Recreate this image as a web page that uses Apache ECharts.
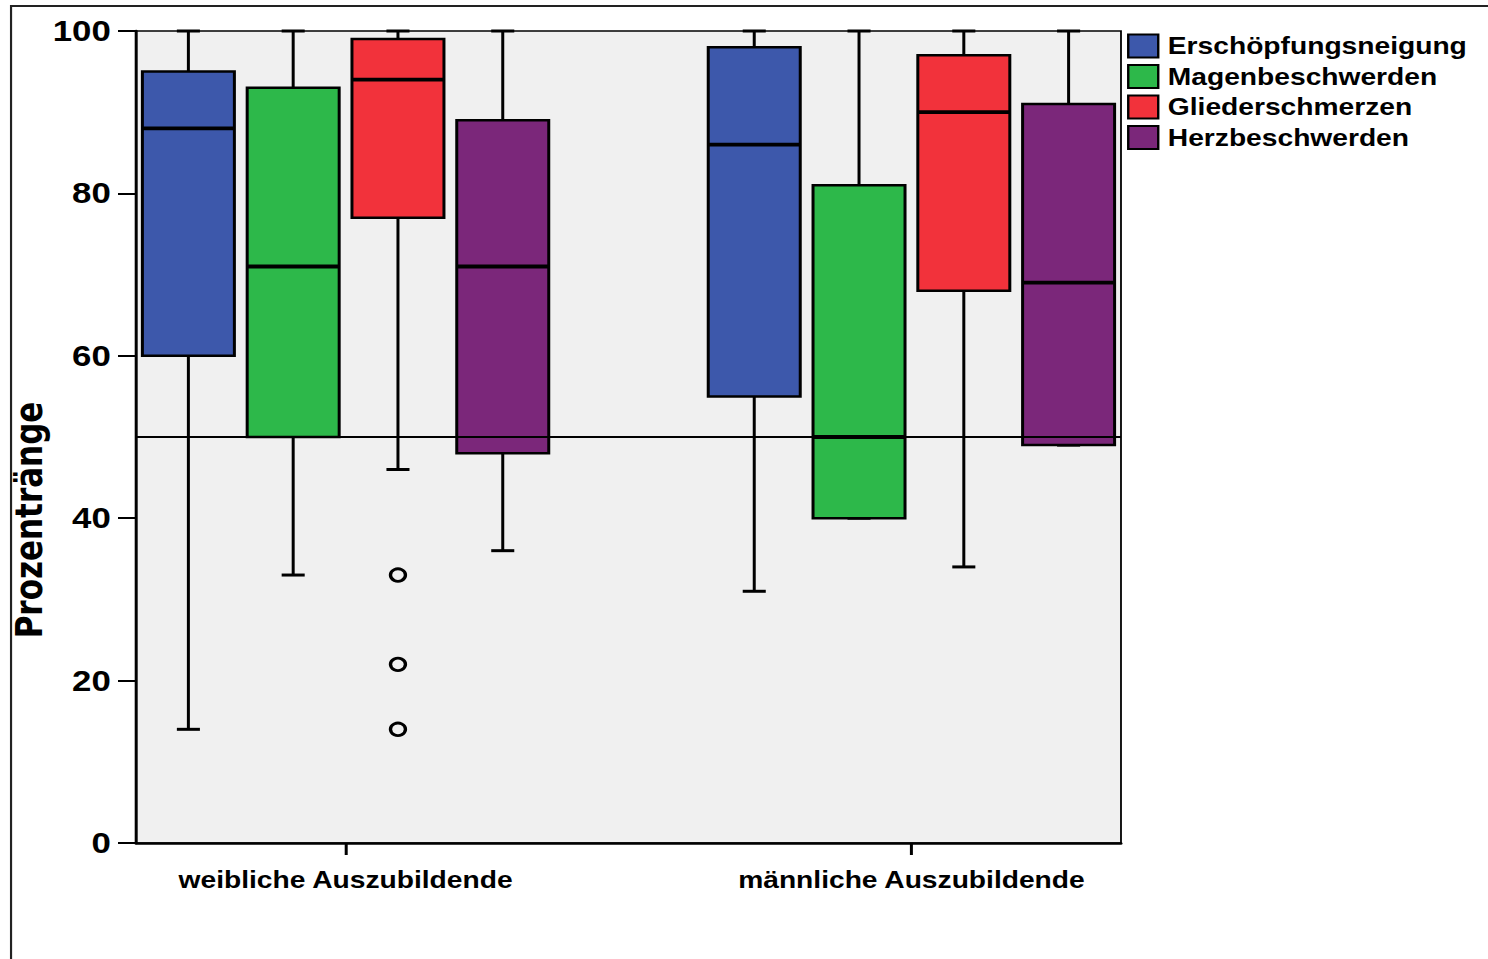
<!DOCTYPE html>
<html>
<head>
<meta charset="utf-8">
<script src="https://cdn.jsdelivr.net/npm/echarts@6/dist/echarts.min.js"></script>
<style>
html,body{margin:0;padding:0;background:#fff;overflow:hidden;width:1488px;height:959px}
#chart{width:1240px;height:959px;transform:scaleX(1.2);transform-origin:0 0}
</style>
</head>
<body>
<div id="chart"></div>
<script>
// ---- data ----
const groups = ['weibliche Auszubildende', 'männliche Auszubildende'];
const seriesNames = ['Erschöpfungsneigung', 'Magenbeschwerden', 'Gliederschmerzen', 'Herzbeschwerden'];
// each entry: [min, Q1, median, Q3, max] for [weiblich, männlich]
const erschoepfung = [[14, 60, 88, 95, 100], [31, 55, 86, 98, 100]];
const magen        = [[33, 50, 71, 93, 100], [40, 40, 50, 81, 100]];
const glieder      = [[46, 77, 94, 99, 100], [34, 68, 90, 97, 100]];
const herz         = [[36, 48, 71, 89, 100], [49, 49, 69, 91, 100]];
// outliers: [groupIndex, seriesIndex, value]
const outliers = [[0, 2, 33], [0, 2, 22], [0, 2, 14]];
const referenceValue = 50;
const yTicks = [0, 20, 40, 60, 80, 100];

// ---- layout ----
const GROUP_OFFSET = 5.4;   // distance between group starts (in slot units)
const X_MAX = 9.4;
const BOX_W = 0.878;
const CAP_W = 0.22;
const colors = ['#3d58ab', '#2db84a', '#f2323b', '#7b277a'];
const FONT = 'Liberation Sans, Arial, sans-serif';

const slot = (g, k) => g * GROUP_OFFSET + k + 0.5;
const groupCenters = groups.map((_, g) => (slot(g, 0) + slot(g, 3)) / 2);
const allStats = [erschoepfung, magen, glieder, herz];

function renderBox(params, api) {
  const x = api.value(0);
  const mn = api.value(1), q1 = api.value(2), md = api.value(3), q3 = api.value(4), mx = api.value(5);
  const half = api.size([BOX_W, 0])[0] / 2;
  const capHalf = api.size([CAP_W, 0])[0] / 2;
  const pMin = api.coord([x, mn]), pQ1 = api.coord([x, q1]), pMd = api.coord([x, md]);
  const pQ3 = api.coord([x, q3]), pMx = api.coord([x, mx]);
  const cx = pMd[0];
  const color = api.visual('color');
  const wl = { stroke: '#000', lineWidth: 2.5 };
  const cap = { stroke: '#000', lineWidth: 3 };
  return {
    type: 'group',
    children: [
      { type: 'line', shape: { x1: cx, y1: pMx[1], x2: cx, y2: pQ3[1] }, style: wl },
      { type: 'line', shape: { x1: cx - capHalf, y1: pMx[1], x2: cx + capHalf, y2: pMx[1] }, style: cap },
      { type: 'line', shape: { x1: cx, y1: pQ1[1], x2: cx, y2: pMin[1] }, style: wl },
      { type: 'line', shape: { x1: cx - capHalf, y1: pMin[1], x2: cx + capHalf, y2: pMin[1] }, style: cap },
      { type: 'rect', shape: { x: cx - half, y: pQ3[1], width: 2 * half, height: pQ1[1] - pQ3[1] },
        style: { fill: color, stroke: '#000', lineWidth: 2.5 } },
      { type: 'line', shape: { x1: cx - half, y1: pMd[1], x2: cx + half, y2: pMd[1] },
        style: { stroke: '#000', lineWidth: 3.8 } }
    ]
  };
}

const series = seriesNames.map((name, k) => ({
  name: name,
  type: 'custom',
  renderItem: renderBox,
  itemStyle: { color: colors[k] },
  encode: { x: 0, y: [1, 2, 3, 4, 5] },
  data: allStats[k].map((s, g) => [slot(g, k)].concat(s)),
  z: 2
}));

series[0].markLine = {
  silent: true,
  symbol: 'none',
  label: { show: false },
  lineStyle: { color: '#000', width: 2, type: 'solid' },
  data: [{ yAxis: referenceValue }],
  z: 5
};

series.push({
  type: 'scatter',
  symbol: 'circle',
  symbolSize: 12.5,
  itemStyle: { color: 'rgba(0,0,0,0)', borderColor: '#000', borderWidth: 2.8, opacity: 1 },
  data: outliers.map(o => [slot(o[0], o[1]), o[2]]),
  z: 6
});

const chart = echarts.init(document.getElementById('chart'), null, { renderer: 'svg' });
chart.setOption({
  animation: false,
  color: colors,
  graphic: [{
    type: 'rect',
    shape: { x: 9.2, y: 6, width: 1500, height: 1100 },
    style: { fill: 'none', stroke: '#222', lineWidth: 1.8 },
    silent: true
  }],
  grid: {
    left: 113.33, top: 31, width: 820.83, height: 812,
    outerBoundsMode: 'none',
    containLabel: false,
    show: true, backgroundColor: '#f0f0f0', borderColor: '#000', borderWidth: 1.5
  },
  legend: {
    data: seriesNames,
    orient: 'vertical',
    left: 939.2,
    top: 33.5,
    icon: 'rect',
    itemWidth: 25,
    itemHeight: 23,
    itemGap: 5.5,
    padding: 0,
    selectedMode: false,
    itemStyle: { borderColor: '#000', borderWidth: 2 },
    textStyle: { fontFamily: FONT, fontWeight: 'bold', fontSize: 23.5, color: '#000', lineHeight: 23, padding: [0, 0, 0, 3] }
  },
  xAxis: {
    type: 'value',
    min: 0,
    max: X_MAX,
    splitLine: { show: false },
    axisLine: { show: true, onZero: false, lineStyle: { color: '#000', width: 2.5 } },
    axisTick: { show: true, customValues: groupCenters, length: 12, lineStyle: { color: '#000', width: 2.5 } },
    axisLabel: {
      customValues: groupCenters,
      formatter: function (v) {
        let best = 0;
        groupCenters.forEach((c, i) => { if (Math.abs(c - v) < Math.abs(groupCenters[best] - v)) best = i; });
        return groups[best];
      },
      margin: 25, fontFamily: FONT, fontWeight: 'bold', fontSize: 23.5, color: '#000'
    }
  },
  yAxis: {
    type: 'value',
    min: yTicks[0],
    max: yTicks[yTicks.length - 1],
    interval: yTicks[1] - yTicks[0],
    name: 'Prozentränge',
    nameLocation: 'middle',
    nameGap: 74,
    nameMoveOverlap: false,
    nameTextStyle: { fontFamily: 'DejaVu Sans', fontWeight: 'bold', fontSize: 31, color: '#000', padding: [0, 166, 0, 0] },
    splitLine: { show: false },
    axisLine: { show: true, lineStyle: { color: '#000', width: 2.5 } },
    axisTick: { show: true, length: 15, lineStyle: { color: '#000', width: 2 } },
    axisLabel: { margin: 21, fontFamily: FONT, fontWeight: 'bold', fontSize: 29, color: '#000' }
  },
  series: series
});
</script>
</body>
</html>
